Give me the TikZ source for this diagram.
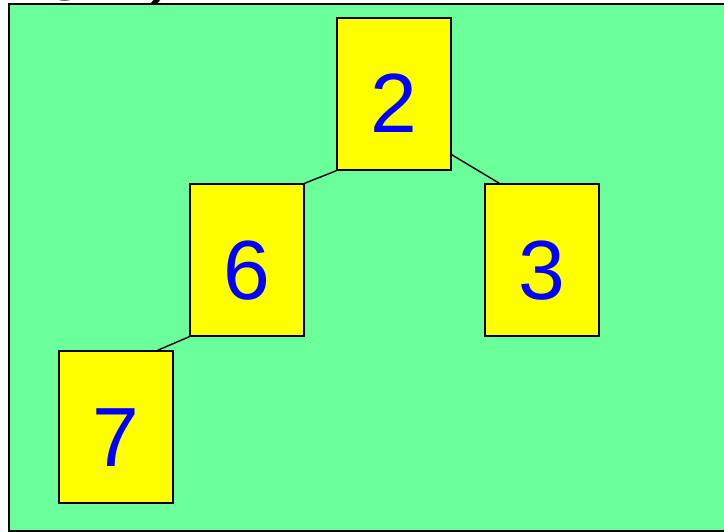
\documentclass[tikz,border=0pt]{standalone}
\usepackage{fontspec}
\setmainfont{Liberation Sans}
\usetikzlibrary{calc}
\definecolor{bggreen}{RGB}{107,255,155}
\definecolor{boxyellow}{RGB}{255,255,0}
\definecolor{digitblue}{RGB}{0,0,255}
\tikzset{
  treebox/.style={draw=black, line width=1.5pt, fill=boxyellow, minimum width=114pt, minimum height=152pt,
    inner sep=0pt, text=digitblue, font=\fontsize{84}{84}\selectfont, text height=78pt, text depth=0pt},
  treeedge/.style={draw=black, line width=1.4pt},
  cuttext/.style={anchor=base west, inner sep=0pt, font=\fontsize{80}{80}\selectfont, text=black}
}
\begin{document}
\begin{tikzpicture}[x=1pt,y=-1pt]
\useasboundingbox (0,0) rectangle (724,532);
\fill[white] (0,0) rectangle (724,532);
\draw[line width=2pt, fill=bggreen] (9,4) rectangle (728,531);
\node[cuttext] (cutg) at (43,-15) {g};
\node[cuttext] (cutp) at (150,-12) {)};
\node[treebox] (n2) at (394,94) {2};
\node[treebox] (n6) at (247,260) {6};
\node[treebox] (n3) at (542,260) {3};
\node[treebox] (n7) at (116,427) {7};
\draw[treeedge] (n2.south west) -- (n6.north east);
\draw[treeedge] ($(n2.south east)+(0,-16)$) -- ($(n3.north west)+(15,0)$);
\draw[treeedge] (n6.south west) -- ($(n7.north east)+(-16,0)$);
\end{tikzpicture}
\end{document}
